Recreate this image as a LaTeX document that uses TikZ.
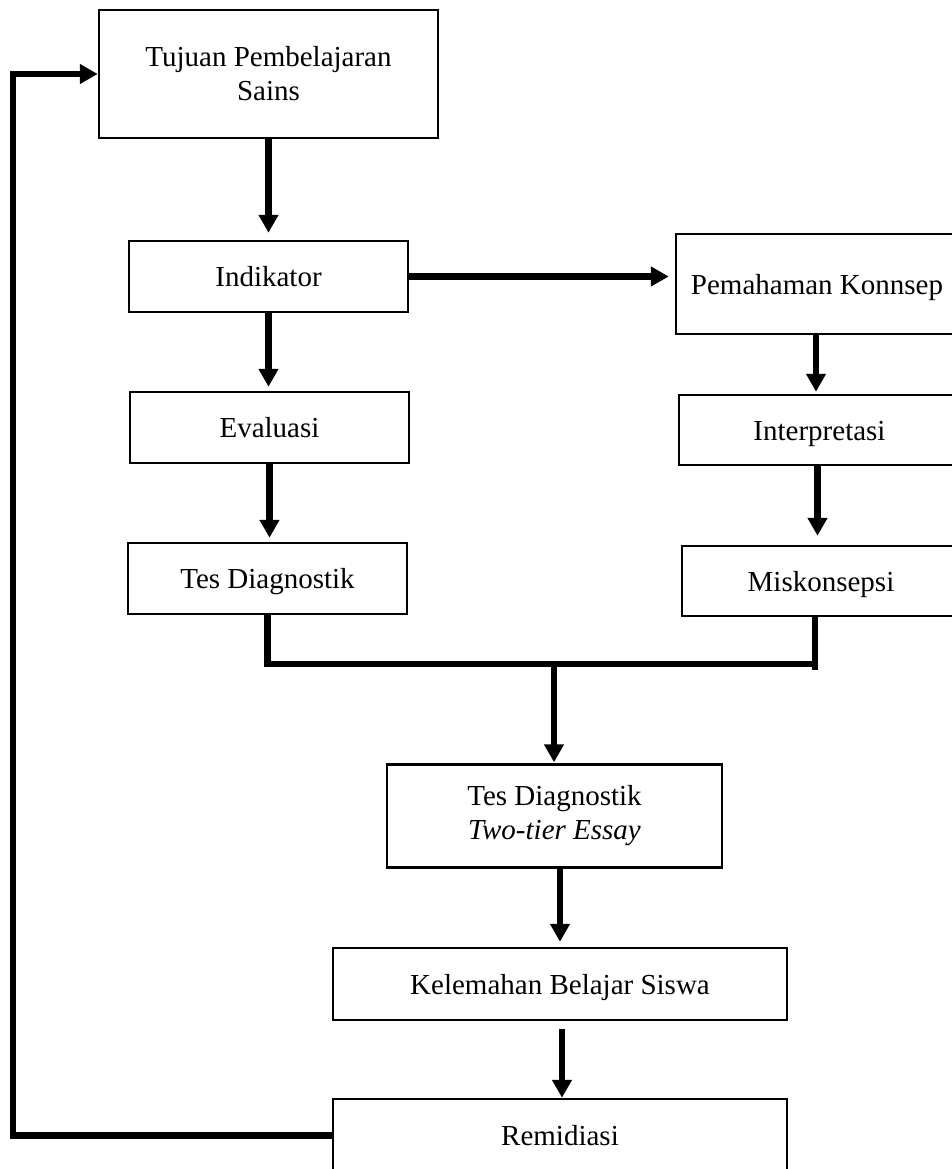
\documentclass[tikz,border=0pt]{standalone}
\usepackage{fontspec}
\setmainfont{Liberation Serif}
\usetikzlibrary{arrows.meta}
\tikzset{
  box/.style={draw, line width=2.5pt, rectangle, inner sep=0pt, align=center,
    font=\fontsize{29}{34}\selectfont},
  onebox/.style={box, text height=20pt, text depth=0pt},
  conn/.style={line width=6.5pt},
  arr/.style={conn, -{Triangle[length=18pt,width=19pt]}}
}
\begin{document}
\begin{tikzpicture}[x=1pt,y=-1pt]
\clip (0,0) rectangle (952,1169);
\fill[white] (0,0) rectangle (952,1169);
\node[box, minimum width=339pt, minimum height=128pt] (tujuan) at (268.5,74) {Tujuan Pembelajaran\\Sains};
\node[onebox, minimum width=279pt, minimum height=71pt] (indikator) at (268.5,276.5) {Indikator};
\node[onebox, minimum width=279pt, minimum height=71pt] (evaluasi) at (269.5,427.5) {Evaluasi};
\node[onebox, minimum width=279pt, minimum height=71pt] (tesdiag) at (267.5,578.5) {Tes Diagnostik};
\node[onebox, minimum width=282pt, minimum height=100pt] (pemahaman) at (817,284) {Pemahaman Konnsep};
\node[onebox, minimum width=281pt, minimum height=70pt] (interpretasi) at (819.5,430) {Interpretasi};
\node[onebox, minimum width=278pt, minimum height=70pt] (miskonsepsi) at (821,581) {Miskonsepsi};
\node[box, minimum width=335pt, minimum height=103pt] (tte) at (554.5,816) {Tes Diagnostik\\\textit{Two-tier Essay}};
\node[onebox, minimum width=454pt, minimum height=72pt] (kelemahan) at (560,984) {Kelemahan Belajar Siswa};
\node[onebox, minimum width=454pt, minimum height=73pt] (remidiasi) at (560,1135.5) {Remidiasi};

\coordinate (jl) at (267.5,664);
\coordinate (j) at (554,664);
\coordinate (jr) at (815,664);
\coordinate (jrb) at (815,670);
\coordinate (fb) at (13,1135.5);

\draw[arr, shorten >=7pt] (tujuan.south) -- (indikator.north);
\draw[arr, shorten >=6pt] (indikator.east) -- (indikator.east -| pemahaman.west);
\draw[arr, shorten >=4pt] (indikator.south) -- (indikator.south |- evaluasi.north);
\draw[arr, shorten >=4pt] (evaluasi.south) -- (evaluasi.south |- tesdiag.north);
\draw[arr, shorten >=2pt] ([xshift=-1pt]pemahaman.south) -- ([xshift=-1pt]pemahaman.south |- interpretasi.north);
\draw[arr, shorten >=9pt] ([xshift=-2pt]interpretasi.south) -- ([xshift=-2pt]interpretasi.south |- miskonsepsi.north);
\draw[conn] (tesdiag.south) -- (jl) -- (jr);
\draw[conn] ([xshift=-6pt]miskonsepsi.south) -- (jrb);
\draw[arr, shorten >=1pt] (j) -- (j |- tte.north);
\draw[arr, shorten >=5pt] ([xshift=5.5pt]tte.south) -- ([xshift=5.5pt]tte.south |- kelemahan.north);
\draw[arr, shorten <=8pt] ([xshift=2pt]kelemahan.south) -- ([xshift=2pt]remidiasi.north);
\draw[arr] (remidiasi.west) -- (fb) |- (tujuan.west);
\end{tikzpicture}
\end{document}
